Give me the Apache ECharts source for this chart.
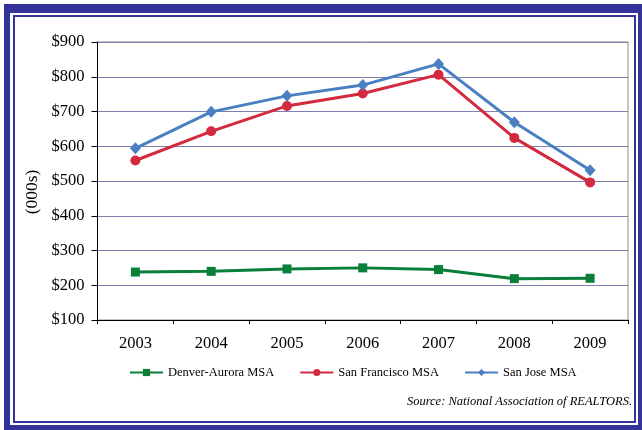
<!DOCTYPE html>
<html>
<head>
<meta charset="utf-8">
<script src="https://cdn.jsdelivr.net/npm/echarts@6/dist/echarts.min.js"></script>
<style>
  html, body { margin: 0; padding: 0; background: #fff; }
  #wrap { position: relative; width: 642px; height: 430px; overflow: hidden; }
  .outer { position: absolute; left: 4px; top: 4px; width: 640px; height: 428px; background: #333399; }
  .inner { position: absolute; left: 10px; top: 13px; width: 628px; height: 412px; background: #fff; }
  .thin { position: absolute; left: 13px; top: 15px; width: 619px; height: 404px; border: 2px solid #333399; background: #fff; }
  #chart { position: absolute; left: 0; top: 0; width: 642px; height: 430px; }
</style>
</head>
<body>
<div id="wrap">
  <div class="outer"></div>
  <div class="inner"></div>
  <div class="thin"></div>
  <div id="chart"></div>
</div>
<script>
const years = ['2003', '2004', '2005', '2006', '2007', '2008', '2009'];
const denver = [238, 240, 247, 250, 245, 219, 220];
const sanFrancisco = [559, 643, 716, 752, 806, 624, 496];
const sanJose = [594, 699, 745, 776, 837, 669, 531];
const yTicks = [100, 200, 300, 400, 500, 600, 700, 800, 900];

const serif = "'Liberation Serif', 'DejaVu Serif', serif";
const chart = echarts.init(document.getElementById('chart'), null, { renderer: 'canvas' });

chart.setOption({
  backgroundColor: 'transparent',
  animation: false,
  grid: {
    left: 97.5, right: 14, top: 42, bottom: 110,
    show: true, borderColor: '#8c8c8c', borderWidth: 1, backgroundColor: 'transparent'
  },
  legend: {
    left: 124, top: 361,
    itemWidth: 33, itemHeight: 9, itemGap: 25,
    textStyle: { fontFamily: serif, fontSize: 12.5, color: '#000' },
    data: ['Denver-Aurora MSA', 'San Francisco MSA', 'San Jose MSA']
  },
  xAxis: {
    type: 'category',
    data: years,
    boundaryGap: true,
    axisLine: { show: true, lineStyle: { color: '#000', width: 1 } },
    axisTick: { show: true, length: 4, alignWithLabel: false, lineStyle: { color: '#000' } },
    axisLabel: { fontFamily: serif, fontSize: 16.5, color: '#000', margin: 15 },
    splitLine: { show: false }
  },
  yAxis: {
    type: 'value',
    min: yTicks[0], max: yTicks[yTicks.length - 1], interval: 100,
    axisLine: { show: true, lineStyle: { color: '#000', width: 1 } },
    axisTick: { show: true, length: 6, lineStyle: { color: '#000' } },
    axisLabel: {
      fontFamily: serif, fontSize: 16.5, color: '#000', margin: 13,
      formatter: v => '$' + v
    },
    splitLine: { show: true, lineStyle: { color: '#8080b0', width: 1 } }
  },
  graphic: [
    {
      type: 'text', x: 32, y: 192, rotation: Math.PI / 2,
      style: { text: '(000s)', fontFamily: serif, fontSize: 17.5, fill: '#000', align: 'center', verticalAlign: 'middle' }
    },
    {
      type: 'text', x: 632, y: 402,
      style: { text: 'Source: National Association of REALTORS.', fontFamily: serif, fontStyle: 'italic', fontSize: 12.5, fill: '#000', align: 'right', verticalAlign: 'middle' }
    }
  ],
  series: [
    {
      name: 'Denver-Aurora MSA', type: 'line', data: denver,
      symbol: 'rect', symbolSize: 9,
      lineStyle: { color: '#0a7f3a', width: 3 },
      itemStyle: { color: '#0a7f3a' }
    },
    {
      name: 'San Francisco MSA', type: 'line', data: sanFrancisco,
      symbol: 'circle', symbolSize: 10,
      lineStyle: { color: '#d32a3e', width: 3 },
      itemStyle: { color: '#d32a3e' }
    },
    {
      name: 'San Jose MSA', type: 'line', data: sanJose,
      symbol: 'diamond', symbolSize: [11, 12],
      lineStyle: { color: '#4a7fc1', width: 3 },
      itemStyle: { color: '#4a7fc1' }
    }
  ]
});
</script>
</body>
</html>
